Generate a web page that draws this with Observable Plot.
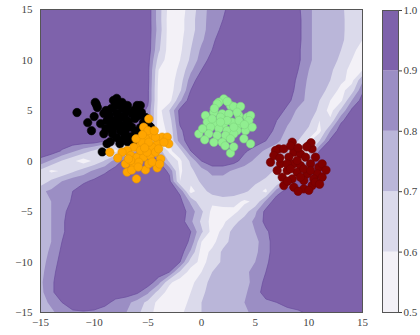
<!DOCTYPE html>
<html><head><meta charset="utf-8">
<script src="https://cdn.jsdelivr.net/npm/d3@7"></script>
<script src="https://cdn.jsdelivr.net/npm/@observablehq/plot@0.6"></script>
<style>
body{margin:0;background:#fff;}
#chart{position:relative;width:420px;height:335px;}
#chart svg{position:absolute;top:0;}
</style></head><body><div id="chart"></div>
<script>
// confidence grid (percent), rows y = 15 .. -15, columns x = -15 .. 15 (step 1)
const confRows = [
[96,96,96,96,96,96,96,96,96,96,96,75,56,55,65,75,85,88,96,96,96,96,96,96,92,82,75,75,72,65,65],
[96,96,96,96,96,96,96,96,96,96,96,75,55,56,66,76,85,90,96,96,96,96,96,96,93,82,75,75,72,66,65],
[96,96,96,96,96,96,96,96,96,96,96,76,55,56,66,76,86,92,96,96,96,96,96,96,93,82,75,75,72,66,63],
[96,96,96,96,96,96,96,96,96,96,96,74,55,57,68,78,88,95,96,96,96,96,96,96,93,82,75,75,72,65,60],
[96,96,96,96,96,96,96,96,96,96,96,72,55,58,70,82,90,96,96,96,96,96,96,96,92,82,75,74,70,62,57],
[96,96,96,96,96,96,96,96,96,96,94,66,55,60,72,85,94,96,96,96,96,96,96,96,92,82,75,74,68,60,55],
[96,96,96,96,96,96,96,96,96,96,93,60,55,62,78,90,96,96,96,96,96,96,96,96,90,80,75,72,64,57,60],
[96,96,96,96,96,96,96,96,96,96,93,58,55,65,85,96,96,96,96,96,96,96,96,96,88,78,75,70,62,57,78],
[96,96,96,96,96,96,96,96,96,96,92,57,55,68,90,96,96,96,96,96,96,96,96,96,86,77,75,66,57,65,88],
[96,96,96,96,96,96,96,96,96,96,92,57,56,78,96,96,96,96,96,96,96,96,96,93,84,77,70,60,58,80,94],
[96,96,96,96,96,96,96,96,96,96,88,56,70,93,96,96,96,96,96,96,96,96,96,87,78,75,68,56,72,92,96],
[96,96,96,96,96,96,96,96,96,96,88,56,65,92,96,96,96,96,96,96,96,96,90,82,76,73,60,62,88,96,96],
[96,96,96,96,96,96,96,96,96,90,82,56,62,88,96,96,96,96,96,96,96,95,87,78,75,68,57,80,96,96,96],
[96,96,96,96,96,96,91,80,70,58,60,56,60,85,96,96,96,96,96,96,96,90,82,76,70,58,70,92,96,96,96],
[96,96,89,82,75,68,58,57,68,80,90,76,58,66,90,96,96,96,96,92,85,78,75,72,60,65,90,96,96,96,96],
[87,78,69,62,55,62,71,85,94,96,96,90,68,58,72,90,96,96,94,85,78,75,73,66,57,85,96,96,96,96,96],
[67,58,61,68,75,82,88,94,96,96,96,96,88,58,68,75,84,84,78,75,75,74,68,58,72,94,96,96,96,96,96],
[63,72,80,86,88,92,96,96,96,96,96,96,93,60,63,72,75,75,75,74,72,68,60,78,93,96,96,96,96,96,96],
[78,82,88,90,96,96,96,96,96,96,96,96,96,88,56,66,74,75,75,72,66,57,85,94,96,96,96,96,96,96,96],
[72,80,86,91,96,96,96,96,96,96,96,96,96,93,78,62,62,66,64,58,62,82,96,96,96,96,96,96,96,96,96],
[72,80,86,96,96,96,96,96,96,96,96,96,96,96,85,72,57,55,57,65,78,93,96,96,96,96,96,96,96,96,96],
[73,80,88,96,96,96,96,96,96,96,96,96,96,96,82,68,56,58,66,75,82,93,96,96,96,96,96,96,96,96,96],
[74,80,88,96,96,96,96,96,96,96,96,96,96,96,90,72,56,62,74,75,80,88,96,96,96,96,96,96,96,96,96],
[75,80,90,96,96,96,96,96,96,96,96,96,96,96,88,60,57,66,74,75,77,86,96,96,96,96,96,96,96,96,96],
[75,82,92,96,96,96,96,96,96,96,96,96,96,96,78,56,62,72,75,75,78,86,96,96,96,96,96,96,96,96,96],
[76,84,94,96,96,96,96,96,96,96,96,96,96,90,65,57,64,72,75,75,80,88,96,96,96,96,96,96,96,96,96],
[77,86,96,96,96,96,96,96,96,96,96,96,90,68,56,60,70,75,75,77,84,90,96,96,96,96,96,96,96,96,96],
[78,88,96,96,96,96,96,96,96,96,96,84,62,55,57,66,73,75,75,77,83,93,96,96,96,96,96,96,96,96,96],
[77,88,96,96,96,96,96,96,96,92,82,66,56,55,60,68,74,75,75,78,86,94,96,96,96,96,96,96,96,96,96],
[76,82,90,96,96,96,93,87,83,76,67,57,55,56,62,70,75,75,76,80,85,88,90,93,96,96,96,96,96,96,96],
[75,78,84,88,89,88,85,84,80,73,63,57,55,58,64,70,75,75,76,78,83,85,86,87,88,92,96,96,96,96,96]
];

const blackPts = [
[-11.6,4.8],[-10.25,3.0],[-9.8,5.6],[-9.7,5.3],[-9.25,0.9],[-9.1,4.7],[-8.8,4.0],[-8.5,1.9],[-8.3,2.7],[-8.2,6.0],
[-8.0,5.5],[-7.9,4.7],[-7.7,3.7],[-7.6,1.7],[-7.4,5.2],[-7.2,4.3],[-7.1,3.0],[-6.9,5.5],[-6.8,3.7],[-6.6,2.4],
[-6.5,4.7],[-6.15,1.7],[-6.0,5.5],[-5.7,5.5],[-5.84,4.5],[-5.7,3.3],[-5.4,3.8],[-4.9,3.5],[-4.75,3.35],[-8.5,3.35],
[-9.1,2.7],[-8.2,4.0],[-7.2,2.7],[-6.15,2.9],[-8.6,4.5],[-6.9,4.0],[-7.55,3.0],[-8.8,1.7],[-8.0,3.5],[-9.4,3.7],
[-6.5,3.35],[-5.2,4.3],[-9.9,5.8],[-7.9,6.2],[-7.4,5.8],[-8.9,5.0],[-8.4,5.2],[-7.6,4.4],[-7.0,4.9],[-6.3,5.0],
[-8.9,3.2],[-7.9,2.3],[-7.3,2.1],[-6.9,1.9],[-10.6,3.8],[-10.0,4.4],[-6.2,4.2],[-5.6,4.8],[-7.5,3.4],[-8.3,3.0],
[-7.1,3.6],[-6.4,2.1]
];
const orangePts = [
[-4.91,4.17],[-5.38,3.35],[-4.75,2.5],[-3.67,2.36],[-3.2,2.36],[-3.05,1.7],[-4.13,1.7],[-4.6,1.37],[-5.2,2.2],[-5.69,1.54],
[-6.3,1.37],[-6.93,1.04],[-6.6,0.54],[-6.0,0.38],[-5.38,0.38],[-4.75,0.54],[-4.29,0.87],[-3.8,0.21],[-7.4,0.87],[-8.54,0.87],
[-7.08,-0.28],[-6.3,-0.45],[-5.22,-0.88],[-4.13,-0.68],[-6.93,-1.1],[-6.06,-1.77],[-5.69,1.04],[-5.07,0.87],[-4.91,-0.28],[-5.84,-0.12],
[-6.6,0.05],[-5.53,1.86],[-4.91,1.86],[-4.29,2.36],[-3.5,1.86],[-7.8,0.3],[-6.1,2.2],[-5.0,3.0],[-4.4,3.0],[-6.5,-0.9],
[-5.9,-0.6],[-4.6,-0.1],[-3.9,-0.3],[-5.5,2.6],[-6.8,0.2],[-5.3,1.3],[-4.0,1.2]
];
const greenPts = [
[2.08,6.15],[1.62,5.82],[1.46,5.66],[2.7,5.5],[3.0,5.4],[3.64,5.4],[0.37,4.5],[1.15,4.83],[1.93,4.67],[2.55,4.67],
[3.48,4.5],[4.26,4.34],[4.57,4.5],[0.53,3.85],[1.31,3.68],[2.08,3.68],[2.86,3.85],[3.64,3.68],[4.41,4.0],[0.84,3.35],
[1.62,3.19],[2.39,3.02],[3.32,3.02],[4.1,3.02],[4.72,3.35],[-0.25,2.69],[0.68,2.69],[1.46,2.53],[2.24,2.53],[3.01,2.69],
[1.15,1.86],[1.93,1.86],[2.7,2.2],[3.95,2.2],[4.57,1.7],[2.7,0.78],[1.77,4.34],[2.39,4.0],[3.01,3.35],[1.77,3.85],
[0.99,4.17],[3.32,4.83],[0.1,3.2],[0.3,2.1],[1.2,5.2],[2.4,5.9],[3.5,4.0],[4.0,3.6],[3.0,1.4],[2.2,1.5]
];
const redPts = [
[8.45,1.86],[7.21,1.2],[7.67,1.2],[6.9,1.04],[8.6,0.87],[9.22,0.71],[10.0,1.53],[10.3,1.2],[9.69,0.38],[8.14,0.38],
[6.43,-0.12],[7.36,-0.28],[8.6,-0.28],[9.22,-0.45],[10.16,-0.28],[10.93,-0.61],[7.05,-0.94],[7.98,-0.94],[8.91,-1.11],[9.85,-1.27],
[10.78,-1.27],[7.52,-1.6],[8.45,-1.77],[9.53,-1.93],[10.47,-1.77],[11.24,-1.6],[7.67,-2.43],[8.6,-2.59],[9.53,-2.76],[10.31,-2.43],
[9.22,-1.6],[7.98,-0.28],[10.62,0.38],[11.24,-0.28],[6.74,0.54],[8.91,0.05],[9.53,-0.78],[8.29,-0.78],[10.16,-0.94],[8.3,1.5],
[9.0,1.3],[7.3,0.3],[10.6,-2.1],[11.6,-0.9],[8.0,-2.0],[9.0,-3.0],[10.0,-2.9],[11.0,-2.3],[10.2,1.8],[9.8,1.4]
];

const xTicks = [-15,-10,-5,0,5,10,15];
const yTicks = [-15,-10,-5,0,5,10,15];
const levels = [0.5,0.6,0.7,0.8,0.9];
const cbTicks = [0.5,0.6,0.7,0.8,0.9,1.0];
const bandColors = ["#f3f1f7","#dbdaeb","#bab6d9","#9b8ec4","#7e62ab"];
const classColors = ["#000000","#ffa500","#90ee90","#800000"];
const classEdges = ["#000000","#e69400","#7fd67f","#6e0000"];

const gridW = confRows[0].length, gridH = confRows.length;
const conf = confRows.flat().map(v => v / 100);
const gridOpts = {width: gridW, height: gridH, x1: -15.5, x2: 15.5, y1: 15.5, y2: -15.5};

const font = {fontFamily: "'Liberation Serif', 'DejaVu Serif', serif", fontSize: "11px", color: "#444", background: "transparent"};
const colorScale = {type: "threshold", domain: [0.6,0.7,0.8,0.9], range: bandColors};
const fmtInt = d3.format("d");

const dots = [blackPts, orangePts, greenPts, redPts].map((pts, i) =>
  Plot.dot(pts, {x: d => d[0], y: d => d[1], r: 4.2, fill: classColors[i], stroke: classEdges[i], strokeWidth: 0.6})
);

const main = Plot.plot({
  width: 420, height: 335,
  marginLeft: 40, marginRight: 58, marginTop: 9, marginBottom: 23,
  style: font,
  x: {domain: [-15,15], ticks: xTicks, tickFormat: fmtInt, tickSize: 0, tickPadding: 6, label: null},
  y: {domain: [-15,15], ticks: yTicks, tickFormat: fmtInt, tickSize: 0, tickPadding: 8, label: null},
  color: colorScale,
  marks: [
    Plot.contour(conf, {...gridOpts, fill: Plot.identity, thresholds: levels, clip: true}),
    Plot.contour(conf, {...gridOpts, value: Plot.identity, thresholds: [0.9], fill: "none", stroke: "#6a4d9e", strokeWidth: 0.7, clip: true}),
    ...dots,
    Plot.frame({stroke: "#555"})
  ]
});

const bands = levels.map((lo, i) => ({lo, hi: cbTicks[i + 1]}));
const cbar = Plot.plot({
  width: 48, height: 335,
  marginLeft: 10, marginRight: 22, marginTop: 10, marginBottom: 23,
  style: font,
  x: {axis: null, domain: [0, 1]},
  y: {domain: [0.5, 1.0], ticks: cbTicks, tickFormat: d3.format(".1f"), axis: "right", tickSize: 3, tickPadding: 2, label: null},
  color: colorScale,
  marks: [
    Plot.rect(bands, {x1: 0, x2: 1, y1: "lo", y2: "hi", fill: "lo"}),
    Plot.frame({stroke: "#555"})
  ]
});

const chart = document.getElementById("chart");
main.style.left = "0px";
cbar.style.left = "372px";
chart.appendChild(main);
chart.appendChild(cbar);
</script></body></html>
